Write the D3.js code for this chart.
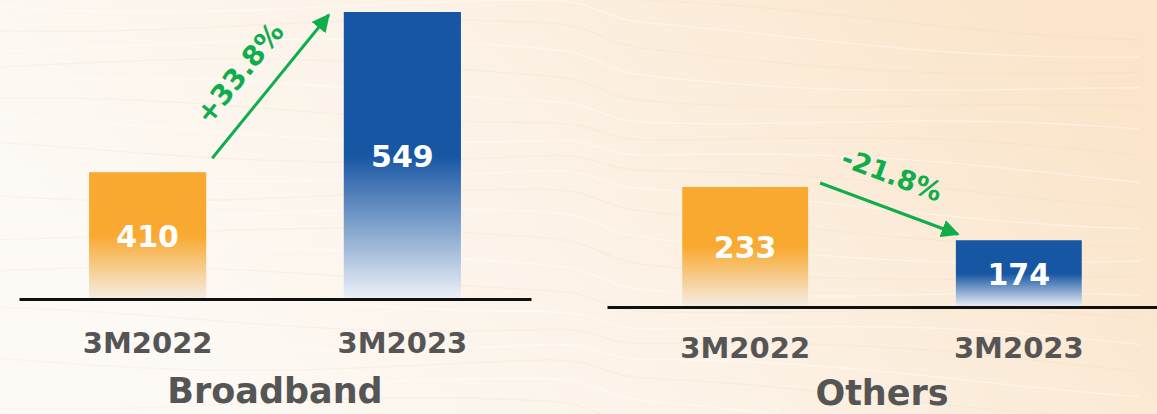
<!DOCTYPE html>
<html>
<head>
<meta charset="utf-8">
<script src="https://cdn.jsdelivr.net/npm/d3@7"></script>
<style>
  html, body { margin: 0; padding: 0; background: #fcf7f0; }
  svg { display: block; }
  text { font-family: "DejaVu Sans", sans-serif; font-weight: bold; }
</style>
</head>
<body>
<script>
// chart data
var periods = ["3M2022", "3M2023"];
var segments = ["Broadband", "Others"];
var broadbandValues = [410, 549];
var othersValues = [233, 174];
var changeLabels = ["+33.8%", "-21.8%"];

var W = 1157, H = 414;
var barColors = ["#f9a92f", "#1756a3"];
var fadeColors = ["#f4eee6", "#edf1f7"];
var green = "#0fad4c", grey = "#555555";

// layout for each panel (scales are fitted to these)
var panels = [
    {name: segments[0], values: broadbandValues, change: changeLabels[0],
     x0: 19, x1: 531, base: 299, top: 12, domain: [300, 549],
     tickGap: 33, titleY: 403, changeSize: 28,
     tail: [6, -14], head: [-15, 3]},
    {name: segments[1], values: othersValues, change: changeLabels[1],
     x0: 607, x1: 1157, base: 307, top: 187, domain: [100, 233],
     tickGap: 30, titleY: 405, changeSize: 27,
     tail: [12, -4], head: [2, -6]}
];

var svg = d3.select("body").append("svg")
    .attr("width", W)
    .attr("height", H);

var defs = svg.append("defs");

// background wash
var bg = defs.append("linearGradient").attr("id", "bg")
    .attr("x1", 0).attr("y1", 0.6).attr("x2", 1).attr("y2", 0.3);
bg.append("stop").attr("offset", "0%").attr("stop-color", "#fdfaf6");
bg.append("stop").attr("offset", "45%").attr("stop-color", "#fcf3e8");
bg.append("stop").attr("offset", "100%").attr("stop-color", "#fbe4c9");
svg.append("rect").attr("width", W).attr("height", H).attr("fill", "url(#bg)");

// faint wood grain lines, decoration only
var grain = svg.append("g").attr("fill", "none");
var waveLine = d3.line().curve(d3.curveBasis);
for (var k = 0; k < 22; k++) {
    var pts = [];
    for (var px = -20; px <= W + 20; px += 40) {
        var py = k * 21 - 20 + 0.05 * px * (px < 600 ? 0.3 : 0.9)
            + 9 * Math.sin(px / 140 + k * 0.7);
        pts.push([px, py]);
    }
    grain.append("path")
        .attr("d", waveLine(pts))
        .attr("stroke", k % 2 ? "#ffffff" : "#ead5b8")
        .attr("stroke-opacity", k % 2 ? 0.45 : 0.2)
        .attr("stroke-width", 1.3);
}

// bar gradients: solid top half, fading out to the base
barColors.forEach(function(c, i) {
    var g = defs.append("linearGradient").attr("id", "bar" + i)
        .attr("x1", 0).attr("y1", 0).attr("x2", 0).attr("y2", 1);
    g.append("stop").attr("offset", "0%").attr("stop-color", c);
    g.append("stop").attr("offset", "50%").attr("stop-color", c);
    g.append("stop").attr("offset", "100%").attr("stop-color", fadeColors[i]);
});

defs.append("marker")
    .attr("id", "arrowhead")
    .attr("viewBox", "0 0 10 10")
    .attr("refX", 9).attr("refY", 5)
    .attr("markerWidth", 6).attr("markerHeight", 6)
    .attr("markerUnits", "strokeWidth")
    .attr("orient", "auto")
    .append("path")
    .attr("d", "M0,0L10,5L0,10Z")
    .attr("fill", green);

panels.forEach(function(p) {
    var x = d3.scaleBand()
        .domain(periods)
        .range([p.x0, p.x1])
        .paddingInner(0.54)
        .paddingOuter(0.275);
    var y = d3.scaleLinear()
        .domain(p.domain)
        .range([p.base, p.top]);

    var g = svg.append("g");

    g.selectAll("rect.bar")
        .data(p.values)
        .enter()
        .append("rect")
        .attr("class", "bar")
        .attr("x", function(d, i) { return x(periods[i]); })
        .attr("y", function(d) { return y(d); })
        .attr("width", x.bandwidth())
        .attr("height", function(d) { return y(p.domain[0]) - y(d); })
        .attr("fill", function(d, i) { return "url(#bar" + i + ")"; });

    g.selectAll("text.val")
        .data(p.values)
        .enter()
        .append("text")
        .attr("class", "val")
        .attr("x", function(d, i) { return x(periods[i]) + x.bandwidth() / 2; })
        .attr("y", function(d) { return (y(d) + y(p.domain[0])) / 2; })
        .attr("dy", "0.37em")
        .attr("text-anchor", "middle")
        .attr("fill", "#ffffff")
        .style("font-size", "30px")
        .text(function(d) { return d; });

    // baseline + period labels
    var axis = g.append("g")
        .attr("transform", "translate(0," + p.base + ")")
        .call(d3.axisBottom(x).tickSize(0).tickPadding(p.tickGap));
    axis.select(".domain")
        .attr("stroke", "#111111")
        .attr("stroke-width", 3);
    axis.selectAll(".tick text")
        .attr("fill", grey)
        .style("font-size", "29px")
        .style("font-family", "'DejaVu Sans', sans-serif")
        .style("font-weight", "bold");

    g.append("text")
        .attr("x", (x(periods[0]) + x(periods[1]) + x.bandwidth()) / 2)
        .attr("y", p.titleY)
        .attr("text-anchor", "middle")
        .attr("fill", grey)
        .style("font-size", "35px")
        .text(p.name);

    // change arrow from first bar corner to second bar corner
    var x1 = x(periods[0]) + x.bandwidth() + p.tail[0],
        y1 = y(p.values[0]) + p.tail[1],
        x2 = x(periods[1]) + p.head[0],
        y2 = y(p.values[1]) + p.head[1];
    g.append("line")
        .attr("x1", x1).attr("y1", y1)
        .attr("x2", x2).attr("y2", y2)
        .attr("stroke", green)
        .attr("stroke-width", 3)
        .attr("marker-end", "url(#arrowhead)");

    var dx = x2 - x1, dy = y2 - y1, len = Math.sqrt(dx * dx + dy * dy);
    var ux = dx / len, uy = dy / len;
    // normal pointing upward
    var nx = uy, ny = -ux;
    if (ny > 0) { nx = -nx; ny = -ny; }
    var cx = (x1 + x2) / 2 + nx * 33 - ux * 9,
        cy = (y1 + y2) / 2 + ny * 33 - uy * 9;
    var angle = Math.atan2(dy, dx) * 180 / Math.PI;
    g.append("text")
        .attr("transform", "translate(" + cx + "," + cy + ") rotate(" + angle + ")")
        .attr("text-anchor", "middle")
        .attr("dy", "0.36em")
        .attr("fill", green)
        .style("font-size", p.changeSize + "px")
        .text(p.change);
});
</script>
</body>
</html>
